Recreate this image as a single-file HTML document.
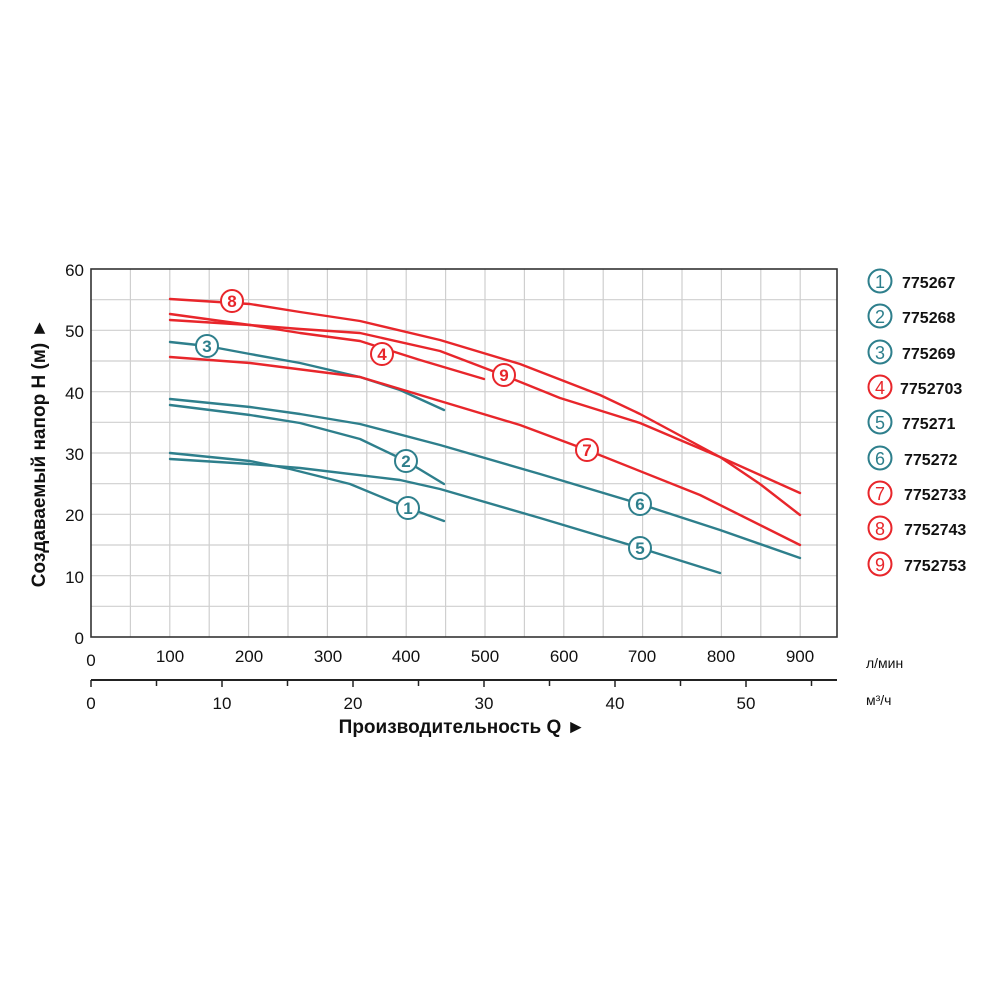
<!DOCTYPE html>
<html><head><meta charset="utf-8"><style>body{margin:0;background:#fff}</style></head><body>
<svg width="1000" height="1000" xmlns="http://www.w3.org/2000/svg" font-family="Liberation Sans, sans-serif">
<g stroke="#cfcfcf" stroke-width="1.2">
<line x1="130.4" y1="269" x2="130.4" y2="637"/><line x1="169.8" y1="269" x2="169.8" y2="637"/><line x1="209.2" y1="269" x2="209.2" y2="637"/><line x1="248.6" y1="269" x2="248.6" y2="637"/><line x1="288" y1="269" x2="288" y2="637"/><line x1="327.4" y1="269" x2="327.4" y2="637"/><line x1="366.8" y1="269" x2="366.8" y2="637"/><line x1="406.2" y1="269" x2="406.2" y2="637"/><line x1="445.6" y1="269" x2="445.6" y2="637"/><line x1="485" y1="269" x2="485" y2="637"/><line x1="524.4" y1="269" x2="524.4" y2="637"/><line x1="563.8" y1="269" x2="563.8" y2="637"/><line x1="603.2" y1="269" x2="603.2" y2="637"/><line x1="642.6" y1="269" x2="642.6" y2="637"/><line x1="682" y1="269" x2="682" y2="637"/><line x1="721.4" y1="269" x2="721.4" y2="637"/><line x1="760.8" y1="269" x2="760.8" y2="637"/><line x1="800.2" y1="269" x2="800.2" y2="637"/>
<line x1="91" y1="299.7" x2="837" y2="299.7"/><line x1="91" y1="330.3" x2="837" y2="330.3"/><line x1="91" y1="361" x2="837" y2="361"/><line x1="91" y1="391.7" x2="837" y2="391.7"/><line x1="91" y1="422.3" x2="837" y2="422.3"/><line x1="91" y1="453" x2="837" y2="453"/><line x1="91" y1="483.7" x2="837" y2="483.7"/><line x1="91" y1="514.3" x2="837" y2="514.3"/><line x1="91" y1="545" x2="837" y2="545"/><line x1="91" y1="575.7" x2="837" y2="575.7"/><line x1="91" y1="606.3" x2="837" y2="606.3"/>
</g>
<rect x="91" y="269" width="746" height="368" fill="none" stroke="#333" stroke-width="1.6"/>
<g font-size="17" fill="#111" text-anchor="end">
<text x="84" y="276">60</text><text x="84" y="337">50</text><text x="84" y="399">40</text><text x="84" y="460">30</text><text x="84" y="521">20</text><text x="84" y="583">10</text><text x="84" y="644">0</text>
</g>
<g font-size="17" fill="#111" text-anchor="middle">
<text x="91" y="666">0</text><text x="170" y="662">100</text><text x="249" y="662">200</text><text x="328" y="662">300</text><text x="406" y="662">400</text><text x="485" y="662">500</text><text x="564" y="662">600</text><text x="642" y="662">700</text><text x="721" y="662">800</text><text x="800" y="662">900</text>
<text x="91" y="709">0</text><text x="222" y="709">10</text><text x="353" y="709">20</text><text x="484" y="709">30</text><text x="615" y="709">40</text><text x="746" y="709">50</text>
</g>
<text x="866" y="668" font-size="14" fill="#111">л/мин</text>
<text x="866" y="705" font-size="14" fill="#111">м³/ч</text>
<line x1="91" y1="680" x2="837" y2="680" stroke="#222" stroke-width="2"/>
<g stroke="#222" stroke-width="1.5">
<line x1="91" y1="680" x2="91" y2="687"/><line x1="156.5" y1="680" x2="156.5" y2="686"/><line x1="222" y1="680" x2="222" y2="687"/><line x1="287.5" y1="680" x2="287.5" y2="686"/><line x1="353" y1="680" x2="353" y2="687"/><line x1="418.5" y1="680" x2="418.5" y2="686"/><line x1="484" y1="680" x2="484" y2="687"/><line x1="549.5" y1="680" x2="549.5" y2="686"/><line x1="615" y1="680" x2="615" y2="687"/><line x1="680.5" y1="680" x2="680.5" y2="686"/><line x1="746" y1="680" x2="746" y2="687"/><line x1="811.5" y1="680" x2="811.5" y2="686"/>
</g>
<text x="462" y="733" font-size="19" font-weight="bold" fill="#111" text-anchor="middle">Производительность Q ►</text>
<text transform="translate(45,453) rotate(-90)" font-size="19" font-weight="bold" fill="#111" text-anchor="middle">Создаваемый напор H (м) ►</text>
<g fill="none" stroke-width="2.4" stroke-linecap="round" stroke-linejoin="round">
<g stroke="#2e7f8c">
<polyline points="170,453 250,461 290,469 350,484 408,508 444,521"/>
<polyline points="170,405 250,415 300,423 360,439 406,461 444,484"/>
<polyline points="170,342 207,346 250,354 300,363 360,377 400,390 444,410"/>
<polyline points="170,459 250,464 300,468 400,480 440,489 540,518 640,548 720,573"/>
<polyline points="170,399 250,407 300,414 360,424 440,445 540,474 640,504 720,530 800,558"/>
</g>
<g stroke="#e8262b">
<polyline points="170,314 250,325 300,333 360,341 420,360 484,379"/>
<polyline points="170,357 250,363 360,377 440,401 520,425 587,450 700,495 800,545"/>
<polyline points="170,299 250,304 300,312 360,321 440,340 520,364 600,395 640,414 720,457 760,484 800,515"/>
<polyline points="170,320 250,325 300,329 360,333 440,351 503,375 560,398 640,423 720,457 800,493"/>
</g>
</g>
<g font-size="17" font-weight="bold" text-anchor="middle" stroke-width="2">
<g fill="#fff" stroke="#e8262b"><circle cx="232" cy="301" r="11"/><circle cx="382" cy="354" r="11"/><circle cx="504" cy="375" r="11"/><circle cx="587" cy="450" r="11"/></g>
<g fill="#fff" stroke="#2e7f8c"><circle cx="207" cy="346" r="11"/><circle cx="406" cy="461" r="11"/><circle cx="640" cy="504" r="11"/><circle cx="408" cy="508" r="11"/><circle cx="640" cy="548" r="11"/></g>
<g fill="#e8262b" stroke="none"><text x="232" y="307">8</text><text x="382" y="360">4</text><text x="504" y="381">9</text><text x="587" y="456">7</text></g>
<g fill="#2e7f8c" stroke="none"><text x="207" y="352">3</text><text x="406" y="467">2</text><text x="640" y="510">6</text><text x="408" y="514">1</text><text x="640" y="554">5</text></g>
</g>
<g font-size="18" text-anchor="middle" stroke-width="2">
<g fill="#fff">
<circle cx="880" cy="281" r="11.5" stroke="#2e7f8c"/><circle cx="880" cy="316" r="11.5" stroke="#2e7f8c"/><circle cx="880" cy="352" r="11.5" stroke="#2e7f8c"/><circle cx="880" cy="387" r="11.5" stroke="#e8262b"/><circle cx="880" cy="422" r="11.5" stroke="#2e7f8c"/><circle cx="880" cy="458" r="11.5" stroke="#2e7f8c"/><circle cx="880" cy="493" r="11.5" stroke="#e8262b"/><circle cx="880" cy="528" r="11.5" stroke="#e8262b"/><circle cx="880" cy="564" r="11.5" stroke="#e8262b"/>
</g>
<g stroke="none">
<text x="880" y="288" fill="#2e7f8c">1</text><text x="880" y="323" fill="#2e7f8c">2</text><text x="880" y="359" fill="#2e7f8c">3</text><text x="880" y="394" fill="#e8262b">4</text><text x="880" y="429" fill="#2e7f8c">5</text><text x="880" y="465" fill="#2e7f8c">6</text><text x="880" y="500" fill="#e8262b">7</text><text x="880" y="535" fill="#e8262b">8</text><text x="880" y="571" fill="#e8262b">9</text>
</g>
<g fill="#111" font-weight="bold" font-size="16" text-anchor="start">
<text x="902" y="288">775267</text><text x="902" y="323">775268</text><text x="902" y="359">775269</text><text x="900" y="394">7752703</text><text x="902" y="429">775271</text><text x="904" y="465">775272</text><text x="904" y="500">7752733</text><text x="904" y="535">7752743</text><text x="904" y="571">7752753</text>
</g>
</g>
</svg>
</body></html>
